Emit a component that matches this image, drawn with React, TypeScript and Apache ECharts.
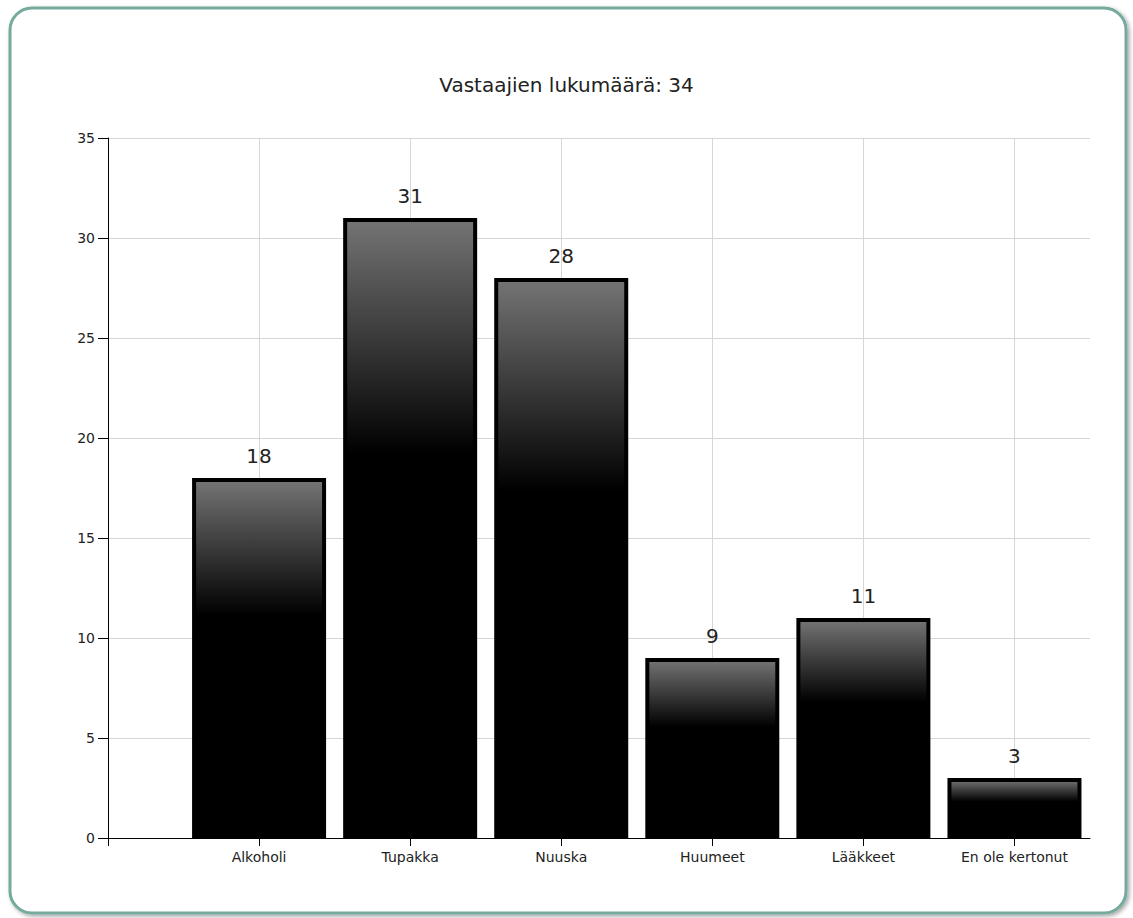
import React, { useEffect, useRef } from "react";
import * as echarts from "echarts";

const TITLE = "Vastaajien lukumäärä: 34";
const categories = ["Alkoholi", "Tupakka", "Nuuska", "Huumeet", "Lääkkeet", "En ole kertonut"];
const positions = [1, 2, 3, 4, 5, 6];
const values = [18, 31, 28, 9, 11, 3];
const yTicks = [0, 5, 10, 15, 20, 25, 30, 35];
const xTickValues = [0, 1, 2, 3, 4, 5, 6];

const FONT = "DejaVu Sans, Verdana, sans-serif";

export default function App() {
  const ref = useRef<HTMLDivElement>(null);
  useEffect(() => {
    document.body.style.margin = "0";
    if (!ref.current) return;
    const chart = echarts.init(ref.current, undefined, { renderer: "svg" });
    const option: any = {
      animation: false,
      backgroundColor: "#ffffff",
      title: {
        text: TITLE,
        left: "center",
        top: 70,
        textStyle: { fontFamily: FONT, fontSize: 20, fontWeight: "normal", color: "#222" },
      },
      graphic: [
        {
          type: "rect",
          z: -100,
          silent: true,
          shape: { x: 10, y: 8, width: 1116, height: 905, r: 22 },
          style: {
            fill: "#ffffff",
            stroke: "#74aa9d",
            lineWidth: 3,
            shadowBlur: 4,
            shadowOffsetX: 2,
            shadowOffsetY: 2,
            shadowColor: "rgba(0,0,0,0.35)",
          },
        },
      ],
      grid: { left: 108, top: 138, right: 43, bottom: 80, containLabel: false },
      xAxis: {
        type: "value",
        min: 0,
        max: 6.5,
        interval: 1,
        axisLine: { show: true, onZero: false, lineStyle: { color: "#000", width: 1 } },
        axisTick: { show: true, length: 8, customValues: xTickValues, lineStyle: { color: "#000" } },
        axisLabel: {
          show: true,
          customValues: positions,
          margin: 12,
          fontFamily: FONT,
          fontSize: 14,
          color: "#222",
          formatter: (v: number) => categories[Math.round(v) - 1] || "",
        },
        splitLine: { show: true, showMinLine: false, lineStyle: { color: "#d6d6d6", width: 1 } },
      },
      yAxis: {
        type: "value",
        min: 0,
        max: 35,
        interval: 5,
        axisLine: { show: true, lineStyle: { color: "#000", width: 1 } },
        axisTick: { show: true, length: 10, lineStyle: { color: "#000" } },
        axisLabel: {
          margin: 13,
          fontFamily: FONT,
          fontSize: 14,
          color: "#222",
          formatter: (v: number) => (yTicks.includes(v) ? String(v) : ""),
        },
        splitLine: { show: true, showMinLine: false, lineStyle: { color: "#d6d6d6", width: 1 } },
      },
      series: [
        {
          type: "bar",
          data: positions.map((p, i) => [p, values[i]]),
          barWidth: 134,
          itemStyle: {
            color: new echarts.graphic.LinearGradient(0, 0, 0, 1, [
              { offset: 0, color: "#747474" },
              { offset: 0.38, color: "#000000" },
              { offset: 1, color: "#000000" },
            ]),
            borderColor: "#000",
            borderWidth: 4,
          },
          label: {
            show: true,
            position: "top",
            distance: 12,
            fontFamily: FONT,
            fontSize: 20,
            color: "#222",
          },
        },
      ],
    };
    chart.setOption(option);
    return () => chart.dispose();
  }, []);
  return <div ref={ref} style={{ width: 1133, height: 918 }} />;
}
